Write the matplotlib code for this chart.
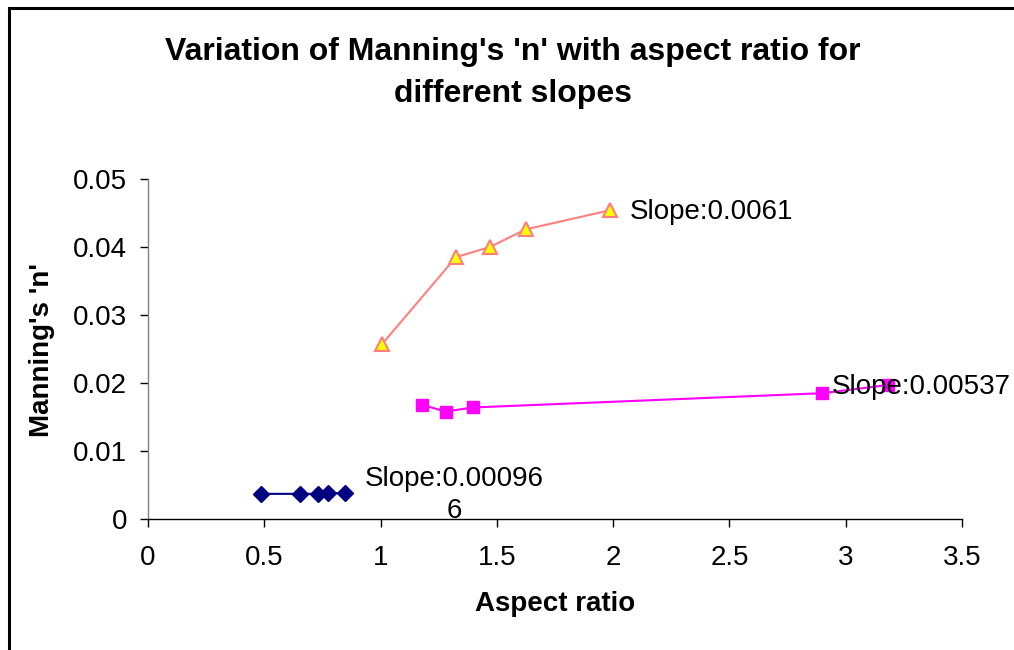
import matplotlib
matplotlib.use('Agg')
import matplotlib.pyplot as plt
from matplotlib.patches import Rectangle

plt.rcParams['font.family'] = ['Liberation Sans', 'DejaVu Sans']

# slope 0.0061 (triangles)
ar_a = [1.006, 1.324, 1.47, 1.625, 1.986]
n_a = [0.0257, 0.0385, 0.0400, 0.0426, 0.0454]
# slope 0.00537 (squares)
ar_b = [1.177, 1.280, 1.397, 2.90, 3.18]
n_b = [0.0168, 0.0158, 0.0164, 0.0185, 0.0197]
# slope 0.000966 (diamonds)
ar_c = [0.485, 0.653, 0.732, 0.775, 0.847]
n_c = [0.0037, 0.0037, 0.0037, 0.0038, 0.0038]

xticks = [0, 0.5, 1, 1.5, 2, 2.5, 3, 3.5]
yticks = [0, 0.01, 0.02, 0.03, 0.04, 0.05]

fig = plt.figure(figsize=(10.14, 6.5), dpi=100)
ax = fig.add_axes([148/1014, 1-519/650, 814/1014, 340/650])

# outer chart frame, cut off on right and bottom like the source
fig.patches.append(Rectangle((9/1014, -0.2), 1.2, 1.2-8/650, transform=fig.transFigure,
                             fill=False, ec='black', lw=2.2))

ax.plot(ar_a, n_a, color='#FF7F7F', lw=1.5, marker='^', ms=10,
        mfc='#FFFF00', mec='#FF7F7F', mew=1.5, zorder=3)
ax.plot(ar_b, n_b, color='#FF00FF', lw=1.5, marker='s', ms=8.5,
        mfc='#FF00FF', mec='#FF00FF', zorder=3)
ax.plot(ar_c, n_c, color='#000080', lw=1.5, marker='D', ms=8,
        mfc='#000080', mec='#000080', zorder=3)

ax.text(2.072, 0.0451, 'Slope:0.0061', fontsize=20, ha='left', va='center', zorder=4)
ax.text(2.94, 0.0194, 'Slope:0.00537', fontsize=20, ha='left', va='center', zorder=4)
ax.text(1.316, 0.0036, 'Slope:0.00096\n6', fontsize=20, ha='center', va='center',
        multialignment='center', linespacing=1.3, zorder=4)

ax.set_xlim(0, 3.5)
ax.set_ylim(0, 0.05)
ax.set_xticks(xticks)
ax.set_xticklabels(['0', '0.5', '1', '1.5', '2', '2.5', '3', '3.5'])
ax.set_yticks(yticks)
ax.set_yticklabels(['0', '0.01', '0.02', '0.03', '0.04', '0.05'])
ax.tick_params(direction='out', length=6, width=1, labelsize=20)
ax.tick_params(axis='x', pad=13)
ax.tick_params(axis='y', pad=9)
for s in ['top', 'right']:
    ax.spines[s].set_visible(False)
for s in ['left', 'bottom']:
    ax.spines[s].set_linewidth(1)
ax.spines['left'].set_color('#808080')

fig.text(513/1014, 1-73/650, "Variation of Manning's 'n' with aspect ratio for\ndifferent slopes",
         fontsize=23, fontweight='bold', ha='center', va='center', linespacing=1.55)
fig.text(555/1014, 1-604/650, 'Aspect ratio', fontsize=20, fontweight='bold', ha='center', va='center')
fig.text(42/1014, 1-350/650, "Manning's 'n'", fontsize=20, fontweight='bold', ha='center', va='center',
         rotation=90)

fig.savefig('out.png', dpi=100)
